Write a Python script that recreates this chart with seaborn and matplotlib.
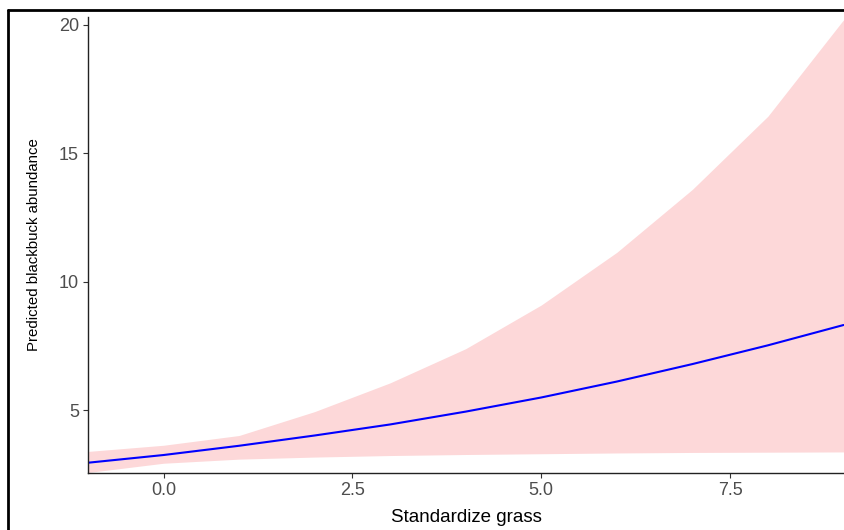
import matplotlib
matplotlib.use("Agg")
import matplotlib.pyplot as plt
import seaborn as sns
import pandas as pd
from matplotlib.lines import Line2D

# Data
grass = [-1, 0, 1, 2, 3, 4, 5, 6, 7, 8, 9]
predicted = [2.96, 3.26, 3.62, 4.02, 4.45, 4.95, 5.50, 6.12, 6.80, 7.53, 8.32]
upper = [3.40, 3.64, 4.02, 4.95, 6.07, 7.40, 9.10, 11.15, 13.6, 16.45, 20.2]
lower = [2.58, 2.94, 3.10, 3.18, 3.24, 3.28, 3.31, 3.34, 3.36, 3.37, 3.38]

x_ticks = [0.0, 2.5, 5.0, 7.5]
x_tick_labels = ["0.0", "2.5", "5.0", "7.5"]
y_ticks = [5, 10, 15, 20]
y_tick_labels = ["5", "10", "15", "20"]

df = pd.DataFrame({"grass": grass, "pred": predicted, "lo": lower, "hi": upper})

sns.set_theme(style="ticks")
plt.rcParams["font.family"] = ["Liberation Sans", "DejaVu Sans"]

fig = plt.figure(figsize=(8.45, 5.30), dpi=100)
fig.patch.set_facecolor("white")
ax = fig.add_axes([88 / 845, 1 - 473 / 530, 1 - 88 / 845, (473 - 17) / 530])
ax.set_facecolor("white")

ax.fill_between(df["grass"], df["lo"], df["hi"], color="#FDD8D9", linewidth=0, zorder=1)
sns.lineplot(data=df, x="grass", y="pred", color="#0000FF", linewidth=1.5, ax=ax, zorder=2)

ax.set_xlim(-1, 9.02)
ax.set_ylim(2.56, 20.31)
ax.set_xticks(x_ticks)
ax.set_xticklabels(x_tick_labels)
ax.set_yticks(y_ticks)
ax.set_yticklabels(y_tick_labels)

for s in ["top", "right"]:
    ax.spines[s].set_visible(False)
for s in ["left", "bottom"]:
    ax.spines[s].set_color("#222222")
    ax.spines[s].set_linewidth(1.0)

ax.tick_params(axis="both", which="major", length=3.5, width=0.8, color="#333333",
               labelcolor="#4D4D4D", labelsize=13, pad=3, direction="out")
ax.tick_params(top=False, right=False)
ax.minorticks_off()
ax.grid(False)

ax.set_xlabel("Standardize grass", fontsize=13.5, color="black", labelpad=7)
ax.set_ylabel("Predicted blackbuck abundance", fontsize=10.8, color="black", labelpad=13)

# outer frame (left and top edges of the cropped screenshot)
fig.add_artist(Line2D([8.5 / 845, 8.5 / 845], [0, 1 - 9.5 / 530], transform=fig.transFigure,
                      color="black", linewidth=2.0))
fig.add_artist(Line2D([8.5 / 845, 1], [1 - 9.5 / 530, 1 - 9.5 / 530], transform=fig.transFigure,
                      color="black", linewidth=2.0))

fig.savefig("out.png", dpi=100, facecolor="white")
